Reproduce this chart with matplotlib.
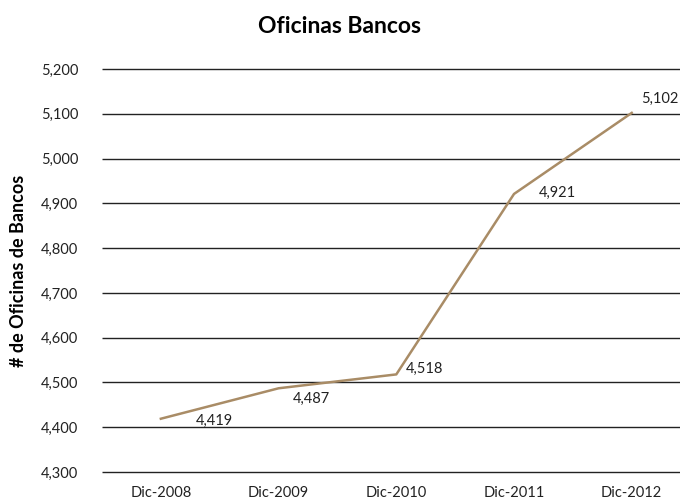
import matplotlib
matplotlib.use("Agg")
import matplotlib.pyplot as plt

# data
periodos = ["Dic-2008", "Dic-2009", "Dic-2010", "Dic-2011", "Dic-2012"]
oficinas = [4419, 4487, 4518, 4921, 5102]
yticks = [4300, 4400, 4500, 4600, 4700, 4800, 4900, 5000, 5100, 5200]

plt.rcParams['font.family'] = ['Lato', 'DejaVu Sans']

fig = plt.figure(figsize=(6.8, 5.03), dpi=100)
ax = fig.add_axes([0.15, 0.0616, 0.85, 0.8012])

x = list(range(len(periodos)))
ax.plot(x, oficinas, color='#A98C66', lw=1.8, zorder=3)

ax.hlines(yticks, -0.5, 4.41, colors='#222222', lw=1.0, clip_on=False, zorder=1)

# value labels, offsets in pixels
lbl_dx = [54, 33, 28, 43, 28]
lbl_dy = [-2.5, -11, 6, 1, 14]
for i, v in enumerate(oficinas):
    ax.annotate(f"{v:,}", (x[i], v), xytext=(lbl_dx[i], lbl_dy[i]),
                textcoords='offset pixels', ha='center', va='center',
                fontsize=10.5, color='#222222')

ax.set_xlim(-0.5, 4.41)
ax.set_ylim(4300, 5200)
ax.set_xticks(x)
ax.set_xticklabels(periodos)
ax.set_yticks(yticks)
ax.set_yticklabels([f"{t:,}" for t in yticks])
ax.tick_params(length=0, labelsize=10.5, colors='#222222', pad=10)
ax.tick_params(axis='y', pad=17)
for s in ax.spines.values():
    s.set_visible(False)

ax.set_ylabel("# de Oficinas de Bancos", fontsize=13, fontweight='bold', labelpad=10)
fig.suptitle("Oficinas Bancos", fontsize=16.5, fontweight='bold', y=0.968)

fig.savefig("out.png", dpi=100)
